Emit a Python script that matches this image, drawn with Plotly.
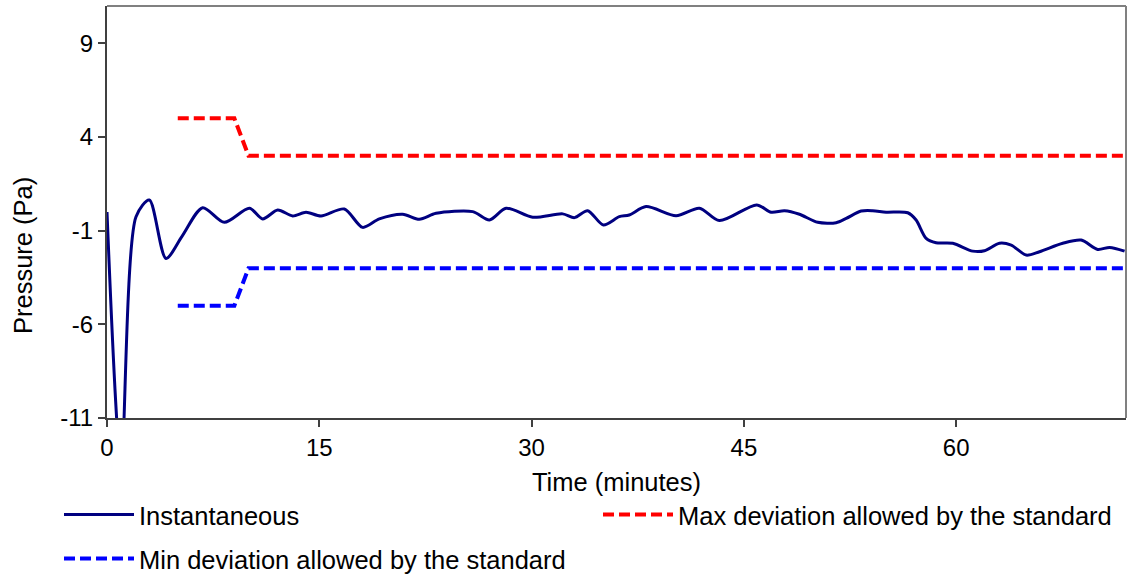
import plotly.graph_objects as go

# ---- data ----
time_min = [0, 1.0, 2.05, 2.99, 4.17, 5.3, 6.76, 8.29, 10.06, 11.0, 12.06, 13.12, 14.06, 15.12,
            16.77, 18.06, 19.24, 20.89, 22.07, 23.25, 25.84, 27.02, 28.2, 30.08, 32.2, 33.03,
            33.96, 35.07, 36.2, 36.9, 38.09, 40.21, 41.86, 43.27, 45.9, 46.93, 47.87, 48.93,
            50.22, 51.52, 52.23, 53.29, 54.1, 55.05, 56.58, 57.17, 57.88, 58.58, 59.76, 61.17,
            62.0, 63.06, 63.89, 64.95, 65.89, 67.53, 68.83, 70.0, 70.84, 71.9]
pressure = [0.0, -13.5, -0.25, 0.64, -2.48, -1.3, 0.23, -0.55, 0.2, -0.37, 0.11, -0.21, -0.01, -0.21,
            0.16, -0.82, -0.37, -0.12, -0.39, -0.07, 0.02, -0.43, 0.2, -0.28, -0.1, -0.3,
            0.07, -0.69, -0.25, -0.16, 0.29, -0.2, 0.2, -0.46, 0.38, -0.01, 0.07, -0.12,
            -0.55, -0.57, -0.34, 0.05, 0.07, -0.01, -0.04, -0.43, -1.41, -1.64, -1.67, -2.09,
            -2.07, -1.67, -1.77, -2.3, -2.12, -1.67, -1.5, -2.0, -1.89, -2.09]

limit_time = [5, 9, 10, 72]
max_dev = [5, 5, 3, 3]
min_dev = [-5, -5, -3, -3]

x_ticks = [0, 15, 30, 45, 60]
y_ticks = [-11, -6, -1, 4, 9]
y_tick_text = ["-11", "-6", "-1", "4", "9"]

FONT = "Arial, 'Liberation Sans', sans-serif"

fig = go.Figure()
fig.add_trace(go.Scatter(x=time_min, y=pressure, mode="lines", name="Instantaneous",
                         line=dict(color="#000080", width=3, shape="spline", smoothing=0.8),
                         legend="legend", showlegend=True))
fig.add_trace(go.Scatter(x=limit_time, y=max_dev, mode="lines", name="Max deviation allowed by the standard",
                         line=dict(color="#ff0000", width=4, dash="11px,5px"),
                         legend="legend2", showlegend=True))
fig.add_trace(go.Scatter(x=limit_time, y=min_dev, mode="lines", name="Min deviation allowed by the standard",
                         line=dict(color="#0000ff", width=4, dash="11px,5px"),
                         legend="legend3", showlegend=True))

leg_common = dict(orientation="h", xanchor="left", yanchor="middle", bgcolor="rgba(0,0,0,0)",
                  font=dict(family=FONT, size=25.5, color="black"), itemwidth=70)

PLOT_H = 412.0
PLOT_W = 1019.0

fig.update_layout(
    width=1127, height=578,
    autosize=False,
    showlegend=True,
    margin=dict(l=107, r=1, t=6, b=160, autoexpand=False),
    paper_bgcolor="white", plot_bgcolor="white",
    font=dict(family=FONT, color="black"),
    legend=dict(x=(59 - 107) / PLOT_W, y=(418 - 515) / PLOT_H, **leg_common),
    legend2=dict(x=(598 - 107) / PLOT_W, y=(418 - 515) / PLOT_H, **leg_common),
    legend3=dict(x=(59 - 107) / PLOT_W, y=(418 - 559) / PLOT_H, **leg_common),
    xaxis=dict(range=[0, 72], tickvals=x_ticks, ticks="outside", ticklen=7, tickwidth=1.5,
               tickcolor="#404040", showline=True, linecolor="#404040", linewidth=2,
               showgrid=False, zeroline=False, ticklabelstandoff=0,
               tickfont=dict(size=24, family=FONT, color="black"),
               title=dict(text="Time (minutes)", font=dict(size=25.5, family=FONT, color="black"),
                          standoff=13)),
    yaxis=dict(range=[-11, 11], tickvals=y_ticks, ticktext=y_tick_text, ticks="outside",
               ticklen=7, tickwidth=1.5,
               tickcolor="#404040", showline=True, linecolor="#404040", linewidth=2,
               showgrid=False, zeroline=False, tickfont=dict(size=24, family=FONT, color="black")),
    shapes=[
        dict(type="line", xref="paper", yref="paper", x0=0, x1=1, y0=1, y1=1,
             line=dict(color="#808080", width=2)),
        dict(type="line", xref="paper", yref="paper", x0=1, x1=1, y0=0, y1=1,
             line=dict(color="#808080", width=2)),
    ],
    annotations=[
        dict(text="Pressure (Pa)", textangle=-90, xref="paper", yref="paper",
             x=(23 - 107) / PLOT_W, y=(418 - 256) / PLOT_H, xanchor="center", yanchor="middle",
             showarrow=False, font=dict(size=25.5, family=FONT, color="black")),
    ],
)

post = ("document.body.style.margin='0';document.body.style.padding='0';"
        "document.body.style.overflow='hidden';"
        "var gd=document.getElementById('{plot_id}');"
        "Plotly.relayout(gd,{width:1127,height:578});")

fig.write_html("out.html", post_script=post,
               config={"responsive": False, "displayModeBar": False})
